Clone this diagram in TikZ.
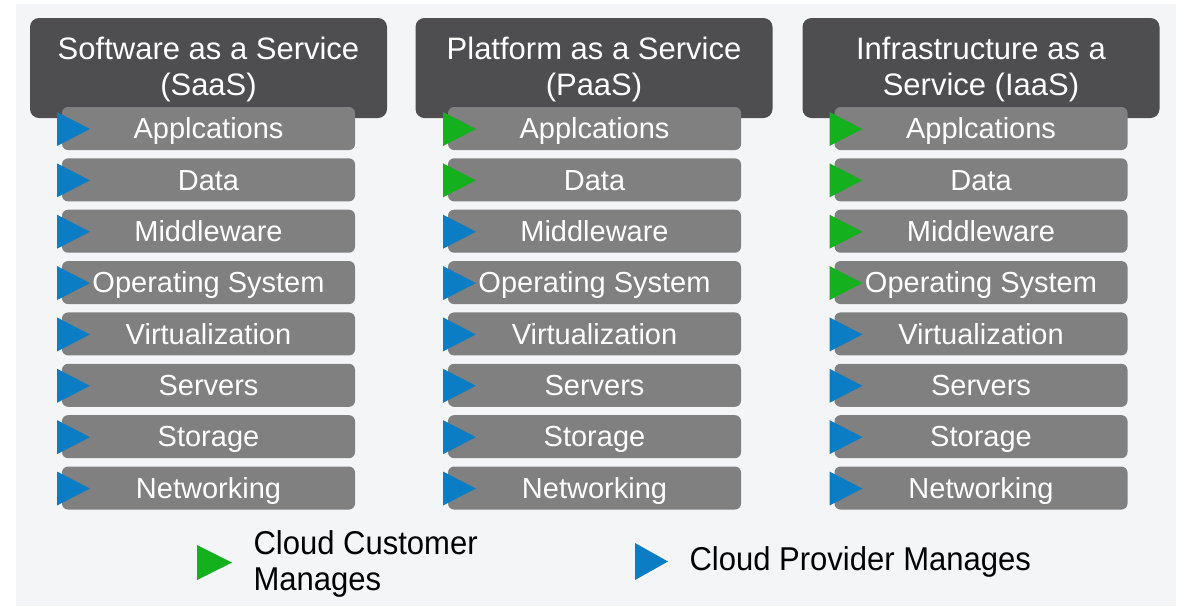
\documentclass[tikz,border=0pt]{standalone}
\usepackage{fontspec}
\setmainfont{Liberation Sans}
\newfontfamily\legendfont[FakeStretch=0.94]{Liberation Sans}
\definecolor{panelbg}{HTML}{F4F5F7}
\definecolor{headgray}{HTML}{4E4E50}
\definecolor{bargray}{HTML}{808080}
\definecolor{provblue}{HTML}{0A7DC4}
\definecolor{custgreen}{HTML}{14B01E}
\tikzset{
  x=1pt,y=-1pt,
  headbox/.style={fill=headgray, rounded corners=9pt, minimum width=357pt, minimum height=100pt, inner sep=0pt},
  headtext/.style={text=white, align=center, font=\fontsize{31}{36}\selectfont},
  layerbar/.style={fill=bargray, rounded corners=6pt, minimum width=293pt, minimum height=43pt, inner sep=0pt, text=white, text height=22pt, text depth=1.5pt, font=\fontsize{29}{30}\selectfont},
  legendtext/.style={text=black, align=left, anchor=west, font=\legendfont\fontsize{33}{36}\selectfont}
}
\begin{document}
\begin{tikzpicture}
\useasboundingbox (0,0) rectangle (1184,606);
\fill[white] (0,0) rectangle (1184,606);
\fill[panelbg] (16,4) rectangle (1176,606);
% headers
\foreach \name/\cx/\ta/\tb in {saas/208.5/Software as a Service/(SaaS), paas/594/Platform as a Service/(PaaS), iaas/981/Infrastructure as a/Service (IaaS)}{
  \node[headbox] (h-\name) at (\cx,68) {};
  \node[headtext] (ht-\name) at (\cx,69) {\ta\\\tb};
}
% layers
\foreach \col/\cx/\ng in {saas/208.5/0, paas/594.5/2, iaas/981/4}{
  \foreach \lab [count=\i] in {Applcations, Data, Middleware, Operating System, Virtualization, Servers, Storage, Networking}{
    \pgfmathsetmacro{\cy}{128.5+(\i-1)*51.36}
    \pgfmathsetmacro{\lx}{\cx-146.5}
    \node[layerbar] (l-\col-\i) at (\cx,\cy) {\lab};
    \ifnum\i>\ng
      \fill[provblue] (\lx-5,\cy-16.5) -- (\lx+28,\cy+0.5) -- (\lx-5,\cy+17.5) -- cycle;
    \else
      \fill[custgreen] (\lx-5,\cy-16.5) -- (\lx+28,\cy+0.5) -- (\lx-5,\cy+17.5) -- cycle;
    \fi
  }
}
% legend
\fill[custgreen] (197,545) -- (232,562.5) -- (197,580) -- cycle;
\node[legendtext] (leg-cust) at (250,563.5) {Cloud Customer\\Manages};
\fill[provblue] (635,543) -- (668,561.5) -- (635,580) -- cycle;
\node[legendtext] (leg-prov) at (686,561.5) {Cloud Provider Manages};
\end{tikzpicture}
\end{document}
